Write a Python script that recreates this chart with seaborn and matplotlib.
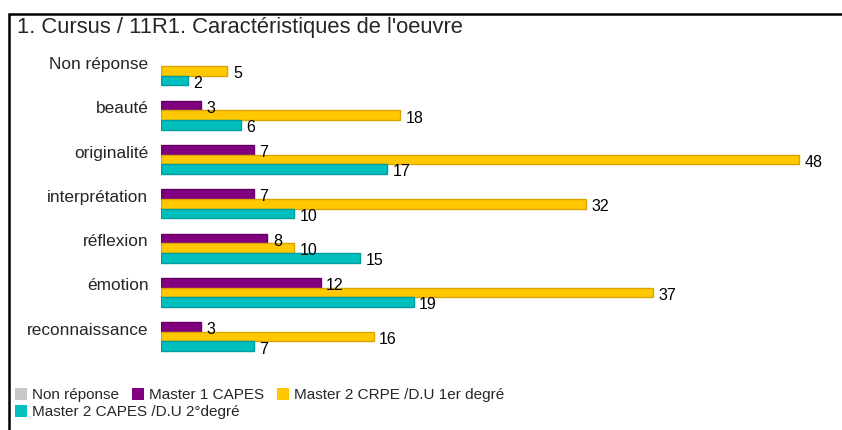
import pandas as pd
import seaborn as sns
import matplotlib.pyplot as plt
from matplotlib.patches import Patch, Rectangle

# Data
categories = ['Non réponse', 'beauté', 'originalité', 'interprétation',
              'réflexion', 'émotion', 'reconnaissance']
series = ['Non réponse', 'Master 1 CAPES', 'Master 2 CRPE /D.U 1er degré',
          'Master 2 CAPES /D.U 2°degré']
non_reponse = [0, 0, 0, 0, 0, 0, 0]
master1_capes = [0, 3, 7, 7, 8, 12, 3]
master2_crpe = [5, 18, 48, 32, 10, 37, 16]
master2_capes = [2, 6, 17, 10, 15, 19, 7]

colors = ['#C8C8C8', '#800080', '#FFC800', '#00BFBF']
edges = ['#A0A0A0', '#660066', '#D9A600', '#009C9C']

# long format table for seaborn
rows = []
for name, vals in zip(series, [non_reponse, master1_capes, master2_crpe, master2_capes]):
    for cat, v in zip(categories, vals):
        rows.append({'categorie': cat, 'serie': name, 'valeur': v})
df = pd.DataFrame(rows)

sns.set_style('white')
plt.rcParams['font.family'] = ['Liberation Sans', 'DejaVu Sans']

fig = plt.figure(figsize=(8.42, 4.30), dpi=100)
ax = fig.add_axes([161 / 842, 1 - 354 / 430, (830 - 161) / 842, (354 - 44) / 430])

sns.barplot(data=df, y='categorie', x='valeur', hue='serie', orient='h',
            order=categories, hue_order=series, palette=colors, width=0.87,
            saturation=1, legend=False, ax=ax)

# edges and value labels
for cont, ec in zip(ax.containers, edges):
    for bar in cont:
        if bar.get_width() > 0:
            bar.set_edgecolor(ec)
            bar.set_linewidth(1)
        else:
            bar.set_linewidth(0)
    labels = [f'{b.get_width():.0f}' if b.get_width() > 0 else '' for b in cont]
    texts = ax.bar_label(cont, labels=labels, padding=3, fontsize=11.5, color='black')
    for t in texts:
        t.xyann = (4, -2)

ax.set_xlim(0, (830 - 161) / ((799 - 161) / 48))
ax.set_ylim(6.5, -0.5)
ax.set_xlabel('')
ax.set_ylabel('')
ax.set_xticks([])
ax.set_yticks([i - 0.07 for i in range(len(categories))])
ax.set_yticklabels(categories, fontsize=12.4)
ax.tick_params(axis='y', length=0, pad=9)
for s in ax.spines.values():
    s.set_visible(False)
ax.patch.set_alpha(0)

# title and outer frame
fig.text(17 / 842, 1 - 28 / 430, "1. Cursus / 11R1. Caractéristiques de l'oeuvre",
         fontsize=15.8, va='center', ha='left')
fig.patches.append(Rectangle((9 / 842, -0.1), 1.2, 1.1 - 14.5 / 430,
                             transform=fig.transFigure, fill=False,
                             edgecolor='black', linewidth=1.8, zorder=5))

# legend: three items on the first row, one on the second
handles = [Patch(facecolor=c, edgecolor='none') for c in colors]
leg_kw = dict(frameon=False, fontsize=11, handlelength=0.8, handleheight=0.8,
              handletextpad=0.3, columnspacing=0.85, borderpad=0, borderaxespad=0)
fig.legend(handles[:3], series[:3], ncol=3, loc='upper left',
           bbox_to_anchor=(15 / 842, 1 - 388 / 430), **leg_kw)
fig.legend(handles[3:], series[3:], ncol=1, loc='upper left',
           bbox_to_anchor=(15 / 842, 1 - 405 / 430), **leg_kw)

fig.savefig('out.png', dpi=100)
